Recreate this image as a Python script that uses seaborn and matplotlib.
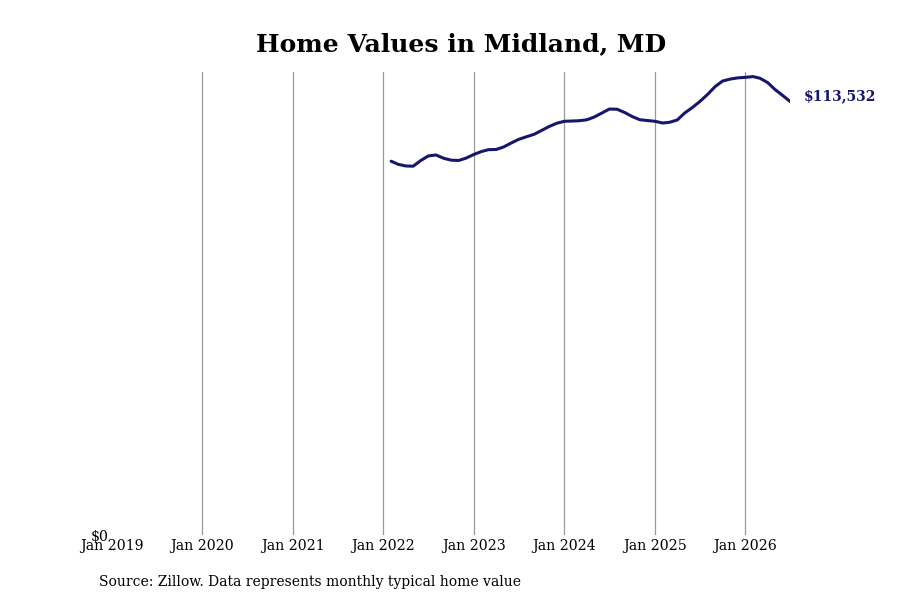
import pandas as pd
import numpy as np
import matplotlib
matplotlib.use("Agg")
import matplotlib.pyplot as plt
import seaborn as sns

# Monthly typical home value, Feb 2022 - Jul 2026
months = pd.date_range("2022-02-01", "2026-07-01", freq="MS")
values = [
    97900, 97100, 96660, 96600, 98100, 99280, 99540, 98680, 98180, 98100, 98730,
    99670, 100450, 100930, 100980, 101630, 102680, 103640, 104300, 104950, 105950, 107000, 107830,
    108360, 108430, 108510, 108750, 109480, 110530, 111570, 111520, 110660, 109610, 108770, 108560,
    108360, 107910, 108100, 108700, 110530, 111960, 113530, 115370, 117460, 118900, 119420, 119730,
    119870, 120070, 119630, 118500, 116670, 115100, 113532,
]
tick_years = list(range(2019, 2027))
title = "Home Values in Midland, MD"
source = "Source: Zillow. Data represents monthly typical home value"
line_color = "#16166b"

df = pd.DataFrame({"date": months, "value": values})

sns.set_theme(style="white")
plt.rcParams["font.family"] = ["DejaVu Serif"]
plt.rcParams["text.color"] = "black"
plt.rcParams["xtick.color"] = "black"
plt.rcParams["ytick.color"] = "black"

fig = plt.figure(figsize=(9, 6), dpi=100)
ax = fig.add_axes([0.1244, 0.1083, 0.7536, 0.7717])

sns.lineplot(data=df, x="date", y="value", color=line_color, linewidth=2.2, ax=ax)

ax.set_xlim(pd.Timestamp("2019-01-01"), df["date"].iloc[-1])
ax.set_ylim(0, max(values) * 1.01)

ticks = [pd.Timestamp(f"{y}-01-01") for y in tick_years]
ax.set_xticks(ticks)
ax.set_xticklabels([f"Jan {y}" for y in tick_years], fontsize=10.2)
for t in ticks[1:]:
    ax.axvline(t, color="#999999", linewidth=0.9, zorder=0)

ax.set_yticks([0])
ax.set_yticklabels(["$0"], fontsize=10.2)
ax.tick_params(axis="both", length=0, pad=2)
ax.tick_params(axis="x", pad=3)
ax.set_xlabel("")
ax.set_ylabel("")
for s in ax.spines.values():
    s.set_visible(False)

last = values[-1]
ax.annotate(f"${last:,}", xy=(df["date"].iloc[-1], last), xytext=(10, 3.5),
            textcoords="offset points", va="center", ha="left",
            fontsize=10, fontweight="bold", color=line_color, annotation_clip=False)

fig.text(0.512, 0.927, title, ha="center", va="center", fontsize=18, fontweight="bold")
fig.text(0.11, 0.03, source, ha="left", va="center", fontsize=10)

fig.savefig("out.png", dpi=100)
